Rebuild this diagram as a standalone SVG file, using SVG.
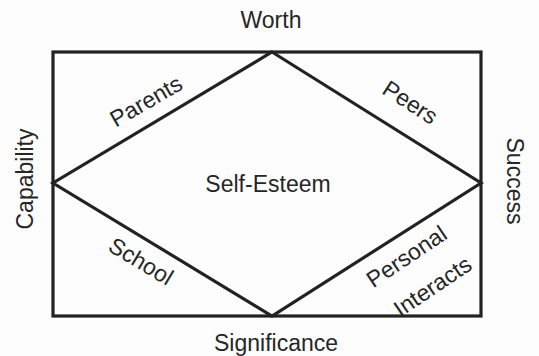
<svg xmlns="http://www.w3.org/2000/svg" width="539" height="356" viewBox="0 0 539 356">
<style>
.t{font-family:"Liberation Sans",Arial,Helvetica,sans-serif;font-size:23px;fill:#262626;text-anchor:middle}
.ln{fill:none;stroke:#222;stroke-width:3.2;stroke-linejoin:miter}
</style>
<rect width="539" height="356" fill="#fdfdfd"/>
<g id="connectors">
<rect class="ln" x="53" y="52" width="428" height="264"/>
<polygon class="ln" points="272,52 481,183 272,316 53,183"/>
</g>
<g id="worth"><text class="t" x="271" y="28">Worth</text></g>
<g id="significance"><text class="t" x="276" y="351">Significance</text></g>
<g id="capability"><text class="t" transform="translate(33,179) rotate(-90)">Capability</text></g>
<g id="success"><text class="t" transform="translate(507,181) rotate(90)">Success</text></g>
<g id="self-esteem"><text class="t" x="268" y="192">Self-Esteem</text></g>
<g id="parents"><text class="t" transform="translate(150,108) rotate(-30)">Parents</text></g>
<g id="peers"><text class="t" transform="translate(406,109) rotate(33)">Peers</text></g>
<g id="school"><text class="t" transform="translate(137,268) rotate(31)">School</text></g>
<g id="personal-interacts"><text class="t" transform="translate(411,263) rotate(-34)">Personal</text><text class="t" transform="translate(437,293) rotate(-34)">Interacts</text></g>
</svg>
